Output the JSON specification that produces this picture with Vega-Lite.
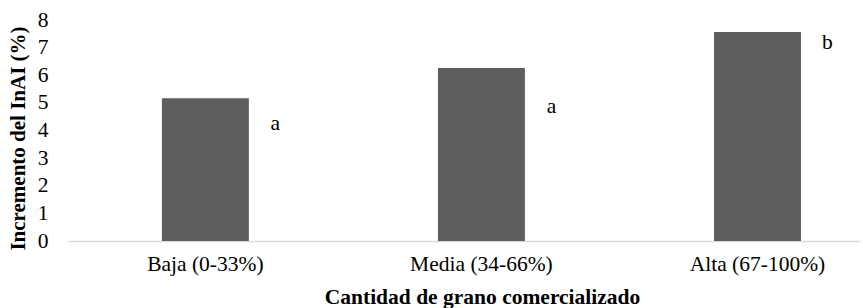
{
  "$schema": "https://vega.github.io/schema/vega-lite/v6.json",
  "autosize": "none",
  "padding": {"left": 68, "top": 20, "right": 3, "bottom": 67},
  "width": 792,
  "height": 221,
  "background": "white",
  "config": {
    "view": {"stroke": null},
    "font": "Liberation Serif",
    "axis": {"labelFont": "Liberation Serif", "titleFont": "Liberation Serif", "labelColor": "#000000", "titleColor": "#000000"},
    "axisY": {"labelOverlap": false}
  },
  "data": {
    "values": [
      {"categoria": "Baja (0-33%)", "incremento": 5.17, "letra": "a", "letra_y": 4.02},
      {"categoria": "Media (34-66%)", "incremento": 6.26, "letra": "a", "letra_y": 4.63},
      {"categoria": "Alta (67-100%)", "incremento": 7.57, "letra": "b", "letra_y": 6.94}
    ]
  },
  "encoding": {
    "x": {
      "field": "categoria", "type": "nominal", "sort": null,
      "scale": {"paddingInner": 0.685, "paddingOuter": 0.277, "align": 0.614},
      "axis": {
        "title": "Cantidad de grano comercializado",
        "titleFontSize": 21.5, "titleFontWeight": "bold",
        "titleX": 414, "titleY": 62, "titleBaseline": "alphabetic", "titleAlign": "center",
        "labelAngle": 0, "labelFontSize": 21.5, "labelPadding": 12,
        "ticks": false, "domainColor": "#d9d9d9", "domainWidth": 1.5
      }
    }
  },
  "layer": [
    {
      "mark": {"type": "bar", "color": "#5e5e5e"},
      "encoding": {
        "y": {
          "field": "incremento", "type": "quantitative",
          "scale": {"domain": [0, 8], "nice": false},
          "axis": {
            "title": "Incremento del InAI (%)",
            "titleFontSize": 21, "titleFontWeight": "bold",
            "titleX": -50, "titleY": 118, "titleAngle": -90, "titleAlign": "center", "titleBaseline": "middle",
            "values": [0, 1, 2, 3, 4, 5, 6, 7, 8],
            "labelFontSize": 21.5, "labelPadding": 20, "labelOverlap": false,
            "ticks": false, "domain": false, "grid": false
          }
        }
      }
    },
    {
      "mark": {"type": "text", "fontSize": 21.5, "font": "Liberation Serif", "baseline": "alphabetic", "align": "center", "xOffset": 70, "color": "#000000"},
      "encoding": {
        "y": {
          "field": "letra_y", "type": "quantitative",
          "axis": {
            "title": "Incremento del InAI (%)",
            "titleFontSize": 21, "titleFontWeight": "bold",
            "titleX": -50, "titleY": 118, "titleAngle": -90, "titleAlign": "center", "titleBaseline": "middle",
            "values": [0, 1, 2, 3, 4, 5, 6, 7, 8],
            "labelFontSize": 21.5, "labelPadding": 20, "labelOverlap": false,
            "ticks": false, "domain": false, "grid": false
          }
        },
        "text": {"field": "letra"}
      }
    }
  ]
}
